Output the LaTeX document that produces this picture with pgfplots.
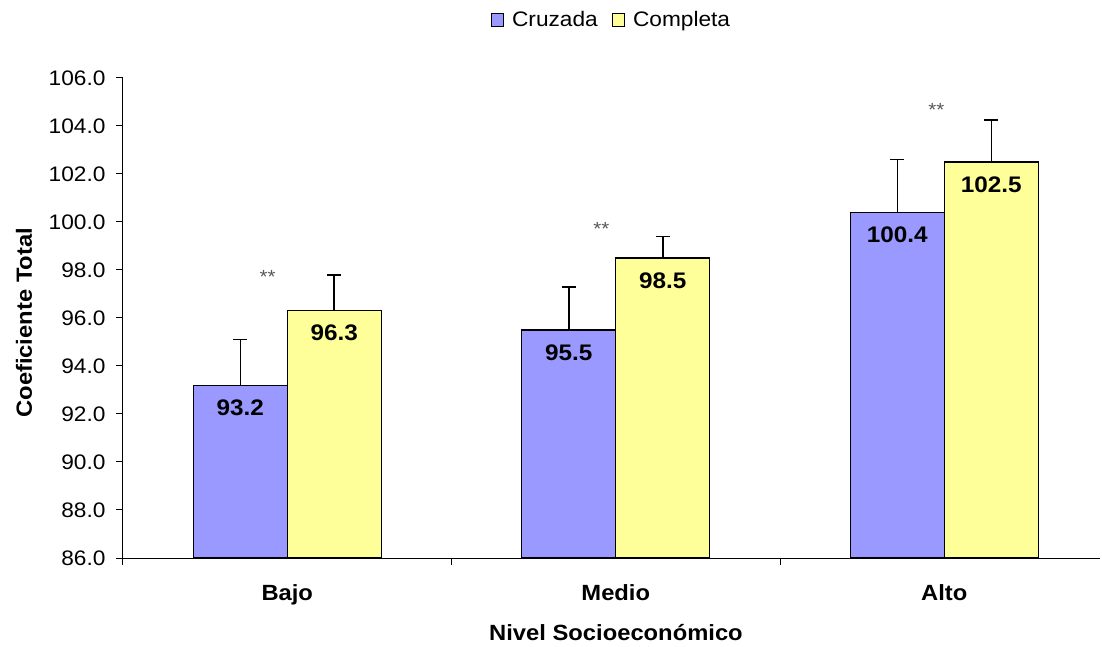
\documentclass[border=0pt]{standalone}
\usepackage{fontspec}
\setmainfont[FakeStretch=1.08]{Liberation Sans}
\usepackage{pgfplots}
\pgfplotsset{compat=1.18}
\definecolor{cruz}{HTML}{9999FF}
\definecolor{comp}{HTML}{FFFF99}
\begin{document}
\begin{tikzpicture}[x=1pt,y=1pt]
\useasboundingbox (-123,-89) rectangle (979,558);
\begin{axis}[
  at={(0,0)}, anchor=south west,
  scale only axis, width=977pt, height=480pt,
  xmin=-0.5, xmax=2.474, ymin=86, ymax=106,
  axis x line*=bottom, axis y line*=left,
  axis line style={line width=1pt},
  tick align=outside, major tick length=7pt,
  tick style={line width=1pt, black},
  ytick={86,88,90,92,94,96,98,100,102,104,106},
  /pgf/number format/assume math mode=true,
  yticklabel style={/pgf/number format/fixed, /pgf/number format/fixed zerofill, /pgf/number format/precision=1, font=\fontsize{21}{25}\selectfont, xshift=-7pt},
  xtick={-0.5,0.5,1.5}, xticklabels={},
  extra x ticks={0,1,2}, extra x tick labels={Bajo,Medio,Alto},
  extra x tick style={major tick length=0pt, xticklabel style={font=\bfseries\fontsize{22}{26}\selectfont, yshift=-23pt}},
  xlabel={Nivel Socioeconómico},
  xlabel style={font=\bfseries\fontsize{22}{26}\selectfont, at={(axis description cs:0.5046,-0.156)}, anchor=center},
  ylabel={Coeficiente Total},
  ylabel style={font=\bfseries\fontsize{22}{26}\selectfont, at={(axis description cs:-0.1013,0.49)}, anchor=center},
  ybar=0pt, bar width=0.286,
  nodes near coords={\pgfmathprintnumber[fixed,fixed zerofill,precision=1]{\pgfplotspointmeta}},
  every node near coord/.append style={font=\bfseries\fontsize{22.5}{26}\selectfont, inner sep=0pt, yshift=-31pt, black},
  legend style={at={(0.5,1.1208)}, anchor=center, draw=none, fill=none, legend columns=-1, font=\fontsize{21}{25}\selectfont,
    /tikz/every odd column/.append style={column sep=6pt},
    /tikz/every even column/.append style={column sep=12pt}},
  legend image code/.code={\draw[#1, draw=black, line width=1.2pt] (0pt,-6.5pt) rectangle (12pt,6.5pt);},
]
\addplot[fill=cruz, draw=black, line width=1.2pt,
  error bars/.cd, y dir=plus, y explicit,
  error bar style={line width=1.5pt, black},
  error mark options={rotate=90, mark size=7pt, line width=1.5pt, black}]
  coordinates {(0,93.2) +- (0,1.9) (1,95.5) +- (0,1.8) (2,100.4) +- (0,2.2)};
\addplot[fill=comp, draw=black, line width=1.2pt,
  error bars/.cd, y dir=plus, y explicit,
  error bar style={line width=1.5pt, black},
  error mark options={rotate=90, mark size=7pt, line width=1.5pt, black}]
  coordinates {(0,96.3) +- (0,1.5) (1,98.5) +- (0,0.9) (2,102.5) +- (0,1.75)};
\legend{Cruzada,Completa}
\node[text=gray!70!black, font=\fontsize{19}{20}\selectfont] at (axis cs:-0.06,97.7) {**};
\node[text=gray!70!black, font=\fontsize{19}{20}\selectfont] at (axis cs:0.956,99.7) {**};
\node[text=gray!70!black, font=\fontsize{19}{20}\selectfont] at (axis cs:1.976,104.65) {**};
\end{axis}
\end{tikzpicture}
\end{document}
